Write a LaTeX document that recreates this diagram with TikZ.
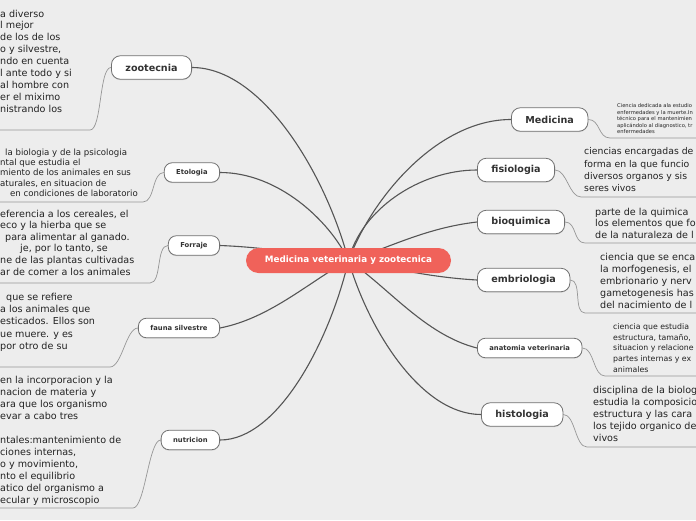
\documentclass[tikz,border=0pt]{standalone}
\usepackage{fontspec}
\setmainfont{DejaVu Sans}
\usepackage{tikz}
\usetikzlibrary{shadows}
\pgfdeclarelayer{edges}
\pgfsetlayers{edges,main}

\definecolor{canvas}{RGB}{237,237,237}
\definecolor{rootred}{RGB}{240,98,90}
\definecolor{boxline}{RGB}{112,112,112}
\definecolor{linkgray}{RGB}{85,85,85}
\definecolor{leafgray}{RGB}{150,150,150}
\definecolor{labeltext}{RGB}{51,51,51}
\definecolor{notetext}{RGB}{34,34,34}

\newcommand{\fsz}[2]{\fontsize{#1}{#2}\selectfont}

\begin{document}
\begin{tikzpicture}[
    x=1pt, y=-1pt,
    root/.style={fill=rootred, text=white, rounded corners=12.5pt, minimum width=205pt, minimum height=25pt, font=\bfseries\fsz{8.8}{10}},
    topic/.style={draw=boxline, line width=0.8pt, fill=white, text=labeltext, rounded corners=9pt, minimum height=23.5pt, inner xsep=14pt, font=\bfseries\fsz{9.6}{11}, drop shadow={shadow xshift=0pt, shadow yshift=-0.9pt, opacity=0.25}},
    subtopic/.style={topic, rounded corners=8pt, minimum height=19.5pt, inner xsep=12pt, font=\bfseries\fsz{6.8}{8}},
    note/.style={anchor=north west, align=left, inner sep=0pt, text=notetext},
    link/.style={draw=linkgray, line width=1.1pt},
    leaf/.style={draw=leafgray, line width=0.7pt}
  ]
    \useasboundingbox (0,0) rectangle (696,520);
    \begin{pgfonlayer}{edges}
      \fill[canvas] (0,0) rectangle (696,520);
    \end{pgfonlayer}

    % central topic and branches
    \node[root] (root) at (348.5,260.5) {Medicina veterinaria y zootecnica};

    \node[topic, anchor=east] (zoo) at (192,67.5) {zootecnia};
    \node[subtopic, anchor=east] (eto) at (220,172.5) {Etologia};
    \node[subtopic, anchor=east] (forr) at (220,245.5) {Forraje};
    \node[subtopic, anchor=east] (fauna) at (220,328) {fauna silvestre};
    \node[subtopic, anchor=east] (nutr) at (220,440) {nutricion};

    \node[topic, anchor=west] (med) at (511,119.5) {Medicina};
    \node[topic, anchor=west] (fisio) at (477,170) {fisiologia};
    \node[topic, anchor=west] (bioq) at (477,222) {bioquimica};
    \node[topic, anchor=west] (embr) at (477,280) {embriologia};
    \node[subtopic, anchor=west] (anat) at (477,348) {anatomia veterinaria};
    \node[topic, anchor=west] (hist) at (481,414.5) {histologia};

    % notes on the left
    \node[note, font=\fsz{9.6}{11.9}] (zootxt) at (0,9.6) {a diverso\\l mejor\\de los de los\\o y silvestre,\\ndo en cuenta\\l ante todo y si\\al hombre con\\er el miximo\\nistrando los};
    \node[note, font=\fsz{8.6}{10.1}] (etotxt) at (0,149) {\hspace*{5pt}la biologia y de la psicologia\\ntal que estudia el\\miento de los animales en sus\\aturales, en situacion de\\\hspace*{10pt}en condiciones de laboratorio};
    \node[note, font=\fsz{9.6}{11.6}] (forrtxt) at (0,209.6) {eferencia a los cereales, el\\eco y la hierba que se\\\hspace*{5pt}para alimentar al ganado.\\\hspace*{20pt}je, por lo tanto, se\\ne de las plantas cultivadas\\ar de comer a los animales};
    \node[note, font=\fsz{9.6}{12.3}] (faunatxt) at (0,292.6) {\hspace*{6pt}que se refiere\\a los animales que\\esticados. Ellos son\\ue muere. y es\\por otro de su};
    \node[note, font=\fsz{9.6}{12}] (nutrtxt) at (0,375.6) {en la incorporacion y la\\nacion de materia y\\ara que los organismo\\evar a cabo tres\\\mbox{}\\ntales:mantenimiento de\\ciones internas,\\o y movimiento,\\nto el equilibrio\\atico del organismo a\\ecular y microscopio};

    % notes on the right
    \node[note, font=\fsz{5.2}{6.5}] (medtxt) at (617,103.6) {Ciencia dedicada ala estudio\\enfermedades y la muerte.In\\técnico para el mantenimien\\aplicándolo al diagnostico, tr\\enfermedades};
    \node[note, font=\fsz{9.3}{12.3}] (fisiotxt) at (584,147.6) {ciencias encargadas de\\forma en la que funcio\\diversos organos y sis\\seres vivos};
    \node[note, font=\fsz{9.6}{11.7}] (bioqtxt) at (595,207.6) {parte de la quimica\\los elementos que fo\\de la naturaleza de l};
    \node[note, font=\fsz{9.6}{12}] (embrtxt) at (600,252.6) {ciencia que se enca\\la morfogenesis, el\\embrionario y nerv\\gametogenesis has\\del nacimiento de l};
    \node[note, font=\fsz{7.8}{10.7}] (anattxt) at (613,323.4) {ciencia que estudia\\estructura, tamaño,\\situacion y relacione\\partes internas y ex\\animales};
    \node[note, font=\fsz{9.6}{12}] (histtxt) at (593,385.6) {disciplina de la biolog\\estudia la composicio\\estructura y las cara\\los tejido organico de\\vivos};

    % underline corners and ends
    \coordinate (zooC) at (90,130);   \coordinate (zooE) at (0,130);
    \coordinate (etoC) at (143,202);  \coordinate (etoE) at (0,202);
    \coordinate (forrC) at (150,283); \coordinate (forrE) at (0,283);
    \coordinate (faunaC) at (110,367);\coordinate (faunaE) at (0,367);
    \coordinate (nutrC) at (133,508); \coordinate (nutrE) at (0,508);
    \coordinate (medC) at (610,138);  \coordinate (medE) at (696,138);
    \coordinate (fisioC) at (581,197);\coordinate (fisioE) at (696,197);
    \coordinate (bioqC) at (585,243); \coordinate (bioqE) at (696,243);
    \coordinate (embrC) at (585,313); \coordinate (embrE) at (696,313);
    \coordinate (anatC) at (605,376); \coordinate (anatE) at (696,376);
    \coordinate (histC) at (587,447); \coordinate (histE) at (696,447);

    \begin{pgfonlayer}{edges}
      \draw[link] (root.center) .. controls +(-23,-87) and +(70,0) .. (zoo.east);
      \draw[link] (root.center) .. controls +(-19,-40) and +(58,0) .. (eto.east);
      \draw[link] (root.center) .. controls +(-38,-5) and +(51,2) .. (forr.east);
      \draw[link] (root.center) .. controls +(-38,20) and +(51,-10) .. (fauna.east);
      \draw[link] (root.center) .. controls +(-19,81) and +(58,0) .. (nutr.east);
      \draw[link] (root.center) .. controls +(24,-64) and +(-73,0) .. (med.west);
      \draw[link] (root.center) .. controls +(12,-50) and +(-58,0) .. (fisio.west);
      \draw[link] (root.center) .. controls +(39,-12) and +(-52,6) .. (bioq.west);
      \draw[link] (root.center) .. controls +(39,6) and +(-52,-3) .. (embr.west);
      \draw[link] (root.center) .. controls +(39,26) and +(-52,-13) .. (anat.west);
      \draw[link] (root.center) .. controls +(20,69) and +(-60,0) .. (hist.west);

      \draw[leaf] (zoo.west) .. controls +(-12,0) and +(12,0) .. (zooC) -- (zooE);
      \draw[leaf] (eto.west) .. controls +(-12,0) and +(12,0) .. (etoC) -- (etoE);
      \draw[leaf] (forr.west) .. controls +(-12,0) and +(12,0) .. (forrC) -- (forrE);
      \draw[leaf] (fauna.west) .. controls +(-12,0) and +(12,0) .. (faunaC) -- (faunaE);
      \draw[leaf] (nutr.west) .. controls +(-12,0) and +(12,0) .. (nutrC) -- (nutrE);
      \draw[leaf] (med.east) .. controls +(12,0) and +(-12,0) .. (medC) -- (medE);
      \draw[leaf] (fisio.east) .. controls +(12,0) and +(-12,0) .. (fisioC) -- (fisioE);
      \draw[leaf] (bioq.east) .. controls +(12,0) and +(-12,0) .. (bioqC) -- (bioqE);
      \draw[leaf] (embr.east) .. controls +(12,0) and +(-12,0) .. (embrC) -- (embrE);
      \draw[leaf] (anat.east) .. controls +(12,0) and +(-12,0) .. (anatC) -- (anatE);
      \draw[leaf] (hist.east) .. controls +(12,0) and +(-12,0) .. (histC) -- (histE);
    \end{pgfonlayer}
  \end{tikzpicture}
\end{document}
